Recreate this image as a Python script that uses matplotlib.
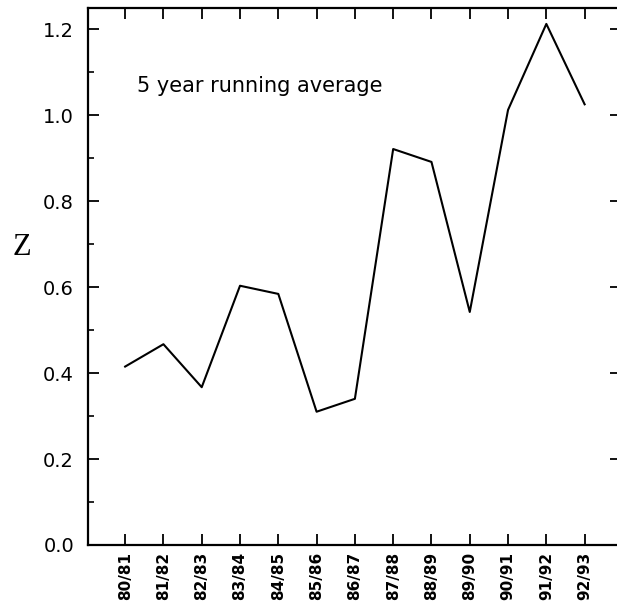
import matplotlib
matplotlib.use("Agg")
import matplotlib.pyplot as plt
from matplotlib.ticker import MultipleLocator

seasons = ["80/81", "81/82", "82/83", "83/84", "84/85", "85/86", "86/87",
           "87/88", "88/89", "89/90", "90/91", "91/92", "92/93"]
z_values = [0.415, 0.467, 0.367, 0.603, 0.584, 0.310, 0.340,
            0.921, 0.891, 0.542, 1.012, 1.212, 1.025]

fig = plt.figure(figsize=(6.17, 6.10), dpi=100)
ax = fig.add_axes([88/617, 1-545/610, (621-88)/617, (545-8)/610])

x = list(range(len(seasons)))
ax.plot(x, z_values, color="black", lw=1.5)

ax.set_xlim(-0.97, 12.95)
ax.set_ylim(0, 1.249)

ax.set_xticks(x)
ax.set_xticklabels(seasons, rotation=90, fontsize=11, fontweight="bold",
                   family="DejaVu Sans", fontstretch="normal")
ax.yaxis.set_major_locator(MultipleLocator(0.2))
ax.yaxis.set_minor_locator(MultipleLocator(0.1))
ax.set_yticklabels([f"{v:.1f}" for v in ax.get_yticks()], fontsize=14,
                   family="DejaVu Sans")

ax.tick_params(axis="x", which="major", direction="in", length=8, width=1.3,
               top=True, bottom=True, pad=5)
ax.tick_params(axis="y", which="major", direction="in", length=8, width=1.3,
               left=True, right=True, pad=10)
ax.tick_params(axis="y", which="minor", direction="in", length=4, width=1.2,
               left=True, right=False)

for s in ax.spines.values():
    s.set_linewidth(1.6)

fig.text(22/617, 1-247/610, "Z", fontsize=22, family="Liberation Serif",
         ha="center", va="center")

ax.text(0.31, 1.053, "5 year running average", fontsize=15,
        family="DejaVu Sans", va="baseline", ha="left")

fig.savefig("out.png", dpi=100)
